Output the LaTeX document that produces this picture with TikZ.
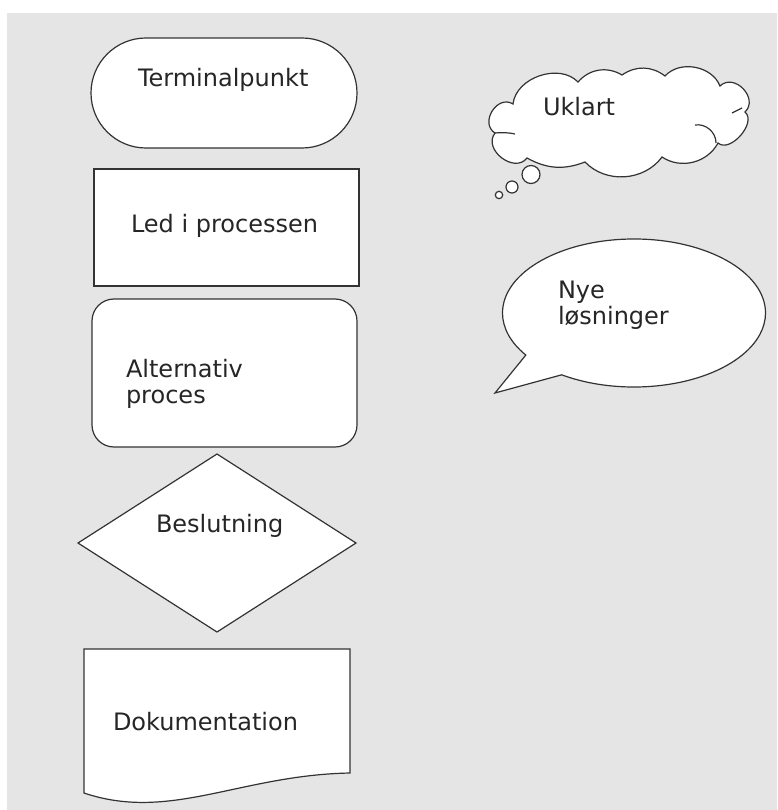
\documentclass[tikz,border=0pt]{standalone}
\usepackage{fontspec}
\setmainfont{DejaVu Sans}
\usetikzlibrary{shapes.geometric,shapes.misc,shapes.callouts}

\begin{document}
\begin{tikzpicture}[x=1pt,y=-1pt,
  every node/.style={outer sep=0pt, inner sep=0pt},
  figur/.style={draw=black!80, line width=1.2pt, fill=white},
  krus/.style={draw=black!80, line width=1.2pt},
  tekst/.style={anchor=base west, font=\fontsize{24}{26}\selectfont, text=black!85}]

\useasboundingbox (0,0) rectangle (777,810);
\fill[white] (0,0) rectangle (777,810);
\fill[black!10] (7,13) rectangle (777,810);

% flowchart symbols
\node[figur, rounded rectangle, minimum width=266pt, minimum height=110pt] (term) at (224,93) {};
\node[figur, rectangle, minimum width=265pt, minimum height=117pt] (led) at (226.5,227.5) {};
\node[figur, rectangle, rounded corners=22pt, minimum width=265pt, minimum height=148pt] (alt) at (224.5,373) {};
\node[figur, diamond, minimum width=278pt, minimum height=178pt] (beslut) at (217,543) {};
\draw[figur] (84,649) -- (350,649) -- (350,773) .. controls (240,775) and (170,822) .. (84,793) -- cycle;

% thought cloud
\draw[figur] (513,104) to[bend left=65] (578,82) to[bend left=40] (622,75)
  to[bend left=36] (665,76) to[bend left=58] (720,86)
  to[bend left=90, looseness=1.4] (745,112) to[bend left=90] (718,143)
  to[bend left=48] (662,157) to[bend left=50] (585,162) to[bend left=25] (527,158)
  to[bend left=90, looseness=1.3] (495,133) to[bend left=90, looseness=1.4] (513,104) -- cycle;
\draw[krus] (495,133) to[bend left=8] (515,134);
\draw[krus] (732,113) -- (742,108);
\draw[krus] (695,125) to[bend left=50] (716,143);
\draw[figur] (531,174.5) circle[radius=9];
\draw[figur] (512,187) circle[radius=6];
\draw[figur] (499,195) circle[radius=3.7];

% speech bubble
\coordinate (tale) at (495,393);
\node[figur, ellipse callout, minimum width=263pt, minimum height=148pt,
  callout absolute pointer=(tale), callout pointer arc=22] (nye) at (634,313) {};

% texts
\node[tekst] (termtekst) at (138,87) {Terminalpunkt};
\node[tekst] (ledtekst) at (131,233) {Led i processen};
\node[tekst, anchor=west, align=left] (alttekst) at (126,384) {Alternativ\\proces};
\node[tekst] (beslutekst) at (156,532) {Beslutning};
\node[tekst] (doktekst) at (113,730) {Dokumentation};
\node[tekst] (ukltekst) at (543,116) {Uklart};
\node[tekst, anchor=west, align=left] (nyetekst) at (558,305) {Nye\\løsninger};
\end{tikzpicture}
\end{document}
